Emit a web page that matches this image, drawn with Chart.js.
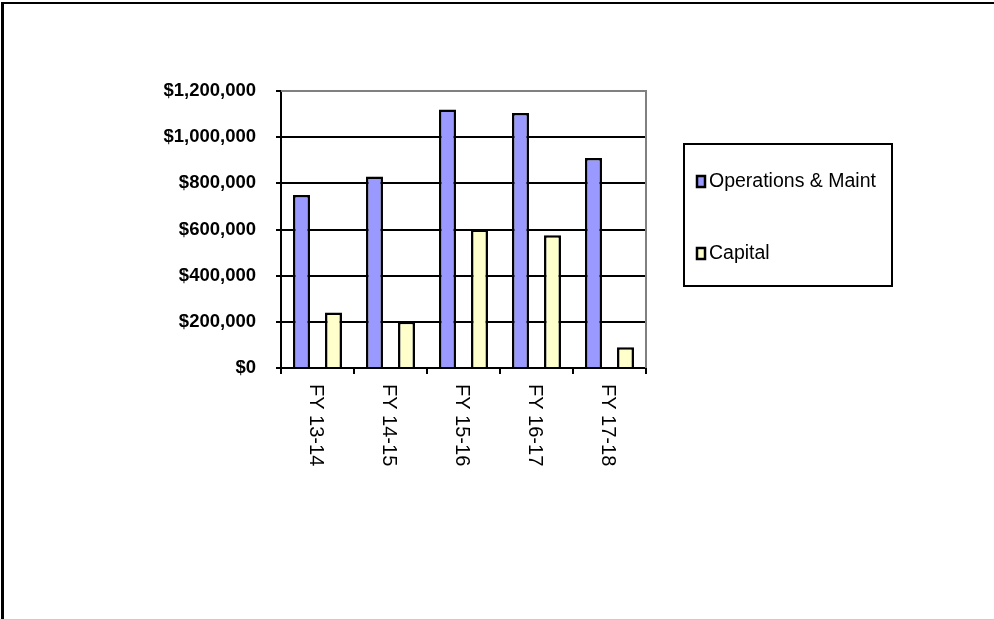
<!DOCTYPE html>
<html>
<head>
<meta charset="utf-8">
<script src="https://cdn.jsdelivr.net/npm/chart.js@4/dist/chart.umd.min.js"></script>
<style>
  html, body { margin: 0; padding: 0; background: #fff; }
  #wrap { width: 994px; height: 620px; }
</style>
</head>
<body>
<div id="wrap"><canvas id="c" width="994" height="620"></canvas></div>
<script>
const categories = ['FY 13-14', 'FY 14-15', 'FY 15-16', 'FY 16-17', 'FY 17-18'];
const opsValues = [750000, 830000, 1120000, 1105000, 910000];
const capitalValues = [240000, 200000, 600000, 575000, 90000];
const seriesNames = ['Operations & Maint', 'Capital'];
const seriesColors = ['#9999FF', '#FFFFCC'];
const yMin = 0, yMax = 1200000, yStep = 200000;

const FONT = "'Liberation Sans', Arial, sans-serif";

const customPlugin = {
  id: 'custom',
  beforeDraw(chart) {
    const ctx = chart.ctx;
    ctx.save();
    ctx.fillStyle = '#fff';
    ctx.fillRect(0, 0, chart.width, chart.height);
    ctx.restore();
  },
  beforeDatasetsDraw(chart) {
    const ctx = chart.ctx, a = chart.chartArea;
    ctx.save();
    ctx.strokeStyle = '#808080';
    ctx.lineWidth = 2;
    ctx.beginPath();
    ctx.moveTo(a.left, a.top);
    ctx.lineTo(a.right, a.top);
    ctx.lineTo(a.right, a.bottom);
    ctx.stroke();
    ctx.restore();
  },
  afterDraw(chart) {
    const ctx = chart.ctx;
    const xs = chart.scales.x;
    ctx.save();
    // rotated category labels (reading top to bottom)
    ctx.fillStyle = '#000';
    ctx.font = '20px ' + FONT;
    ctx.textAlign = 'left';
    ctx.textBaseline = 'middle';
    chart.data.labels.forEach((lab, i) => {
      const x = xs.getPixelForValue(i) - 2;
      const y = xs.top + 16;
      ctx.save();
      ctx.translate(x, y);
      ctx.rotate(Math.PI / 2);
      ctx.fillText(lab, 0, 0);
      ctx.restore();
    });
    // legend box
    ctx.strokeStyle = '#000';
    ctx.lineWidth = 2;
    ctx.strokeRect(684, 144, 208, 142);
    const rows = [181, 253];
    ctx.font = '19.5px ' + FONT;
    chart.data.datasets.forEach((ds, i) => {
      const cy = rows[i];
      ctx.fillStyle = ds.backgroundColor;
      ctx.fillRect(697, cy - 5, 8, 11);
      ctx.strokeStyle = '#000';
      ctx.lineWidth = 2.5;
      ctx.strokeRect(697, cy - 5, 8, 11);
      ctx.fillStyle = '#000';
      ctx.textAlign = 'left';
      ctx.textBaseline = 'middle';
      ctx.fillText(ds.label, 709, cy + 1);
    });
    // outer frame
    ctx.fillStyle = '#000';
    ctx.fillRect(1, 2, 993, 2);
    ctx.fillRect(1, 2, 3, 618);
    ctx.fillStyle = '#cccccc';
    ctx.fillRect(0, 619, 994, 1);
    ctx.restore();
  }
};

new Chart(document.getElementById('c'), {
  type: 'bar',
  data: {
    labels: categories,
    datasets: [
      { label: seriesNames[0], data: opsValues, backgroundColor: seriesColors[0],
        borderColor: '#000', borderWidth: 2.5, borderSkipped: 'start',
        categoryPercentage: 0.877, barPercentage: 0.53 },
      { label: seriesNames[1], data: capitalValues, backgroundColor: seriesColors[1],
        borderColor: '#000', borderWidth: 2.5, borderSkipped: 'start',
        categoryPercentage: 0.877, barPercentage: 0.53 }
    ]
  },
  options: {
    responsive: false,
    animation: false,
    devicePixelRatio: 1,
    layout: { padding: { left: 131, top: 91, right: 348, bottom: 132 } },
    plugins: { legend: { display: false }, tooltip: { enabled: false }, title: { display: false } },
    scales: {
      x: {
        offset: true,
        afterFit(s) { s.height = 120; },
        grid: { display: true, drawOnChartArea: false, drawTicks: true, tickLength: 6,
                color: '#000', lineWidth: 2, offset: true },
        border: { display: true, color: '#000', width: 2 },
        ticks: { color: 'rgba(0,0,0,0)', minRotation: 90, maxRotation: 90, autoSkip: false,
                 font: { family: FONT, size: 20 } }
      },
      y: {
        min: yMin, max: yMax,
        afterFit(s) { s.width = 150; },
        grid: {
          color: (c) => (c.tick && c.tick.value === yMax) ? '#808080' : '#000',
          lineWidth: 2, tickLength: 5, tickColor: '#000', tickWidth: 2
        },
        border: { display: true, color: '#000', width: 2 },
        ticks: {
          stepSize: yStep, padding: 20, color: '#000',
          font: { family: FONT, size: 18.5, weight: 'bold' },
          callback: (v) => '$' + Number(v).toLocaleString('en-US')
        }
      }
    }
  },
  plugins: [customPlugin]
});
</script>
</body>
</html>
